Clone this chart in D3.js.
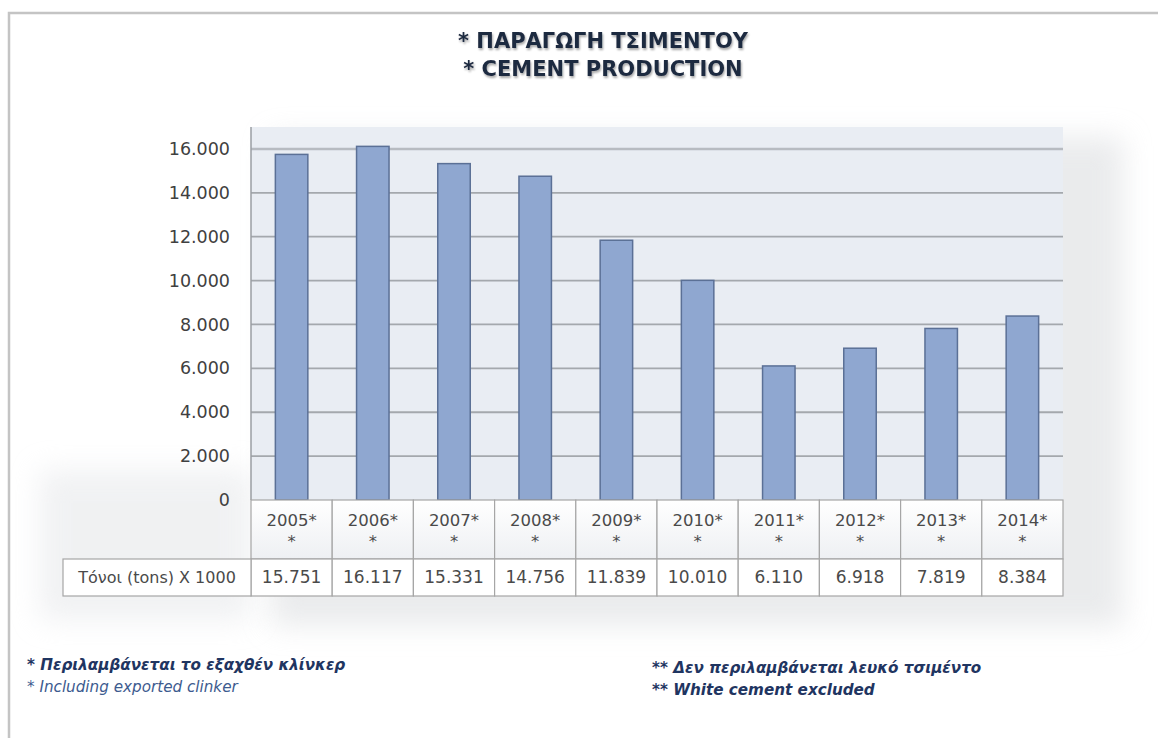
<!DOCTYPE html>
<html>
<head>
<meta charset="utf-8">
<script src="https://cdn.jsdelivr.net/npm/d3@7"></script>
<style>
  html, body { margin: 0; padding: 0; background: #ffffff; }
  svg { display: block; }
</style>
</head>
<body>
<svg id="chart" width="1158" height="738"></svg>
<script>
// ---- data ----
const titleLines = ["* ΠΑΡΑΓΩΓΗ ΤΣΙΜΕΝΤΟΥ", "* CEMENT PRODUCTION"];
const years = ["2005", "2006", "2007", "2008", "2009", "2010", "2011", "2012", "2013", "2014"];
const yearSuffix = "*";
const yearSecondLine = "*";
const production = [15751, 16117, 15331, 14756, 11839, 10010, 6110, 6918, 7819, 8384];
const yTicks = [0, 2000, 4000, 6000, 8000, 10000, 12000, 14000, 16000];
const rowLabel = "Τόνοι (tons) X 1000";
const notesLeft = ["* Περιλαμβάνεται το εξαχθέν κλίνκερ", "* Including exported clinker"];
const notesRight = ["** Δεν περιλαμβάνεται λευκό τσιμέντο", "** White cement excluded"];

// ---- layout ----
const svg = d3.select("#chart");
const W = 1158, H = 738;
const plot = { left: 251, right: 1063, top: 127, bottom: 500 };
const tableHeaderBottom = 559, tableBottom = 596, tableLabelLeft = 63;
const bodyFont = "'DejaVu Sans', 'Noto Sans', sans-serif";

const locale = d3.formatLocale({ decimal: ",", thousands: ".", grouping: [3], currency: ["€", ""] });
const fmt = locale.format(",d");

const x = d3.scaleBand().domain(years).range([plot.left, plot.right]).padding(0);
const y = d3.scaleLinear().domain([0, 17000]).range([plot.bottom, plot.top]);

// defs
const defs = svg.append("defs");
const blur = defs.append("filter").attr("id", "soft").attr("x", "-20%").attr("y", "-20%").attr("width", "140%").attr("height", "140%");
blur.append("feGaussianBlur").attr("stdDeviation", 14);
const tshadow = defs.append("filter").attr("id", "tshadow").attr("x", "-5%").attr("y", "-20%").attr("width", "110%").attr("height", "140%");
tshadow.append("feGaussianBlur").attr("in", "SourceAlpha").attr("stdDeviation", 1.2).attr("result", "b");
tshadow.append("feOffset").attr("dx", 1).attr("dy", 1.5).attr("result", "o");
tshadow.append("feComponentTransfer").append("feFuncA").attr("type", "linear").attr("slope", 0.35);
const m = tshadow.append("feMerge");
m.append("feMergeNode");
m.append("feMergeNode").attr("in", "SourceGraphic");

const hdrGrad = defs.append("linearGradient").attr("id", "hdr").attr("x1", 0).attr("y1", 0).attr("x2", 0).attr("y2", 1);
hdrGrad.append("stop").attr("offset", "0%").attr("stop-color", "#ffffff");
hdrGrad.append("stop").attr("offset", "100%").attr("stop-color", "#eef0f3");

// outer frame
svg.append("path")
  .attr("d", `M9,${H} L9,13 L${W},13`)
  .attr("fill", "none").attr("stroke", "#c4c4c4").attr("stroke-width", 2.5);

// soft shadow behind chart
svg.append("rect")
  .attr("x", plot.left + 20).attr("y", plot.top + 10)
  .attr("width", plot.right - plot.left + 40).attr("height", tableBottom - plot.top + 20)
  .attr("fill", "#d9dbde").attr("opacity", 0.55).attr("filter", "url(#soft)");
svg.append("rect")
  .attr("x", 40).attr("y", 470)
  .attr("width", plot.left - 40).attr("height", 150)
  .attr("fill", "#e2e4e7").attr("opacity", 0.5).attr("filter", "url(#soft)");

// title
const title = svg.append("text")
  .attr("x", 603).attr("text-anchor", "middle")
  .attr("font-family", "'DejaVu Sans', 'Liberation Sans', sans-serif")
  .attr("font-weight", "bold").attr("font-size", 21)
  .attr("fill", "#1f2a40")
  .attr("filter", "url(#tshadow)");
title.selectAll("tspan").data(titleLines).join("tspan")
  .attr("x", 603).attr("y", (d, i) => 48 + i * 28)
  .text(d => d);

// plot background
svg.append("rect")
  .attr("x", plot.left).attr("y", plot.top)
  .attr("width", plot.right - plot.left).attr("height", plot.bottom - plot.top)
  .attr("fill", "#e9edf3");

// gridlines
svg.append("g").selectAll("line").data(yTicks.filter(d => d > 0)).join("line")
  .attr("x1", plot.left).attr("x2", plot.right)
  .attr("y1", d => y(d)).attr("y2", d => y(d))
  .attr("stroke", d => d === 16000 ? "#b7bbc1" : "#a4a8ad")
  .attr("stroke-width", d => d === 16000 ? 2.5 : 1.8);

// y axis labels
const yAxis = d3.axisLeft(y).tickValues(yTicks).tickFormat(fmt).tickSize(0).tickPadding(21);
const gy = svg.append("g").attr("transform", `translate(${plot.left},0)`).call(yAxis);
gy.select(".domain").remove();
gy.selectAll("text")
  .attr("font-family", bodyFont).attr("font-size", 17.5)
  .attr("fill", "#404040");

// bars
const barW = x.bandwidth() * 0.4;
svg.append("g").selectAll("rect").data(production).join("rect")
  .attr("x", (d, i) => x(years[i]) + (x.bandwidth() - barW) / 2)
  .attr("y", d => y(d))
  .attr("width", barW)
  .attr("height", d => y(0) - y(d))
  .attr("fill", "#8fa7d0")
  .attr("stroke", "#5b7096").attr("stroke-width", 1.5);

// left axis line
svg.append("line")
  .attr("x1", plot.left).attr("x2", plot.left)
  .attr("y1", plot.top).attr("y2", plot.bottom)
  .attr("stroke", "#9a9ea3").attr("stroke-width", 1.5);

// data table
const tbl = svg.append("g");
tbl.selectAll("rect.hdr").data(years).join("rect").attr("class", "hdr")
  .attr("x", d => x(d)).attr("y", plot.bottom)
  .attr("width", x.bandwidth()).attr("height", tableHeaderBottom - plot.bottom)
  .attr("fill", "url(#hdr)").attr("stroke", "#a6a6a6").attr("stroke-width", 1.2);
tbl.selectAll("rect.val").data(years).join("rect").attr("class", "val")
  .attr("x", d => x(d)).attr("y", tableHeaderBottom)
  .attr("width", x.bandwidth()).attr("height", tableBottom - tableHeaderBottom)
  .attr("fill", "#ffffff").attr("stroke", "#a6a6a6").attr("stroke-width", 1.2);
tbl.append("rect")
  .attr("x", tableLabelLeft).attr("y", tableHeaderBottom)
  .attr("width", plot.left - tableLabelLeft).attr("height", tableBottom - tableHeaderBottom)
  .attr("fill", "#ffffff").attr("stroke", "#a6a6a6").attr("stroke-width", 1.2);

const ht = tbl.selectAll("text.hdr").data(years).join("text").attr("class", "hdr")
  .attr("text-anchor", "middle")
  .attr("font-family", bodyFont).attr("font-size", 16.5).attr("fill", "#4a4a4a");
ht.append("tspan").attr("x", d => x(d) + x.bandwidth() / 2).attr("y", 526).text(d => d + yearSuffix);
ht.append("tspan").attr("x", d => x(d) + x.bandwidth() / 2).attr("y", 547).text(yearSecondLine);

tbl.selectAll("text.val").data(production).join("text").attr("class", "val")
  .attr("x", (d, i) => x(years[i]) + x.bandwidth() / 2)
  .attr("y", 583)
  .attr("text-anchor", "middle")
  .attr("font-family", bodyFont).attr("font-size", 17).attr("fill", "#4a4a4a")
  .text(d => fmt(d));

tbl.append("text")
  .attr("x", (tableLabelLeft + plot.left) / 2).attr("y", 583)
  .attr("text-anchor", "middle")
  .attr("font-family", bodyFont).attr("font-size", 16).attr("fill", "#4a4a4a")
  .text(rowLabel);

// notes
const noteStyle = (sel, weights, colors) => sel
  .attr("font-family", bodyFont).attr("font-style", "italic").attr("font-size", 15.2)
  .attr("font-weight", (d, i) => weights[i]).attr("fill", (d, i) => colors[i]);

noteStyle(svg.append("g").selectAll("text").data(notesLeft).join("text")
  .attr("x", 27).attr("y", (d, i) => 670 + i * 22).text(d => d),
  ["bold", "normal"], ["#1f3561", "#3d5b8f"]);
noteStyle(svg.append("g").selectAll("text").data(notesRight).join("text")
  .attr("x", 652).attr("y", (d, i) => 673 + i * 22).text(d => d),
  ["bold", "bold"], ["#1f3561", "#1f3561"]);
</script>
</body>
</html>
